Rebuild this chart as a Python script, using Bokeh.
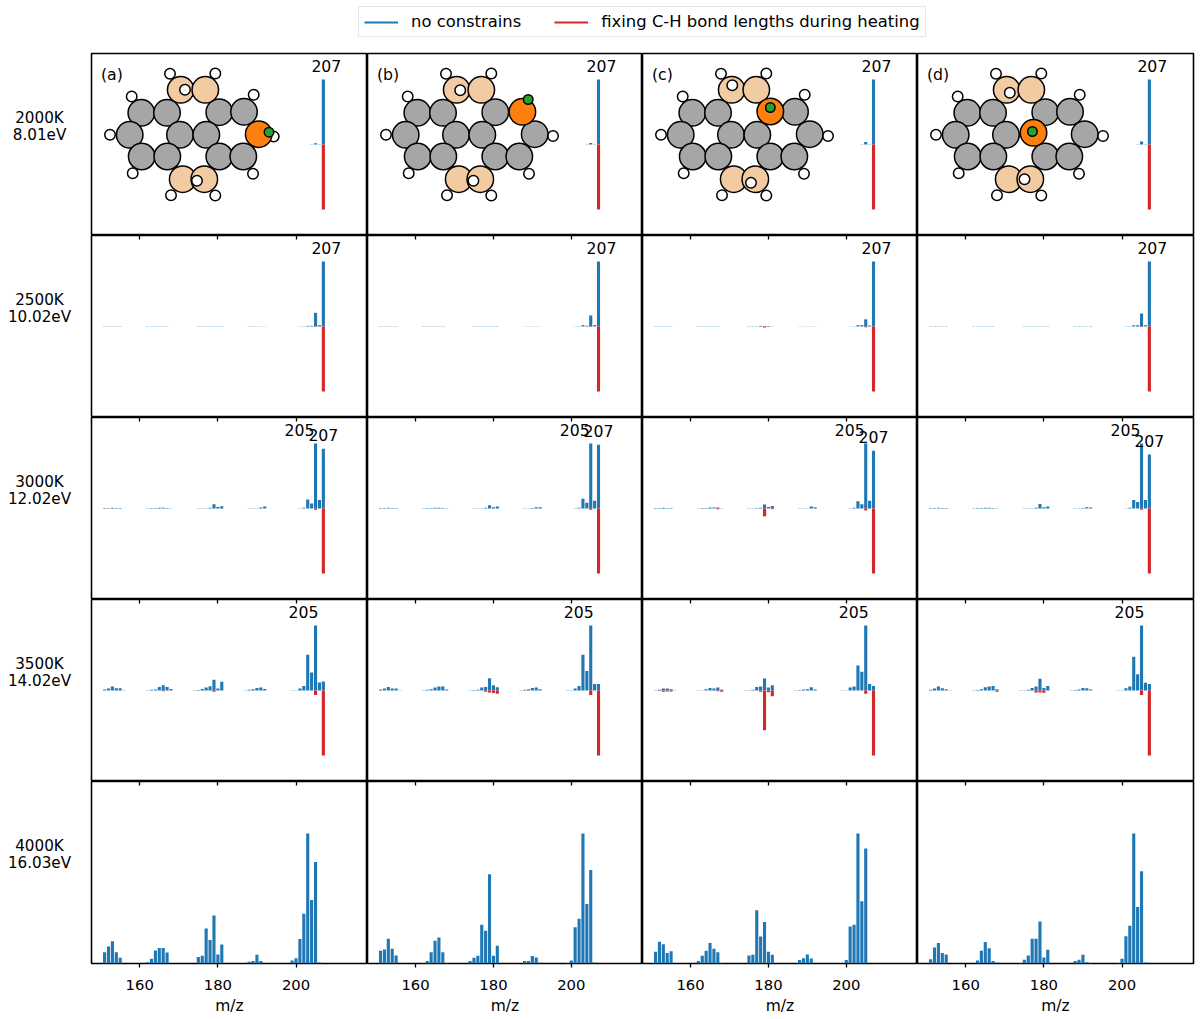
from bokeh.plotting import figure
from bokeh.layouts import column, row
from bokeh.models import Range1d, LinearAxis, FixedTicker, Legend, LegendItem
from bokeh.core.properties import value
from bokeh.embed import file_html
from bokeh.resources import INLINE

BLUE = "#1f77b4"
RED = "#d62728"
FONT = "DejaVu Sans"

# m/z positions shared by all the spectra
MZ = [151, 152, 153, 154, 155, 156,
      162, 163, 164, 165, 166, 167, 168,
      174, 175, 176, 177, 178, 179, 180, 181,
      187, 188, 189, 190, 191, 192,
      199, 200, 201, 202, 203, 204, 205, 206, 207]

TICKS = [160, 180, 200]
COLUMNS = ["a", "b", "c", "d"]
TEMPS = ["2000K", "2500K", "3000K", "3500K", "4000K"]
ENERGIES = ["8.01eV", "10.02eV", "12.02eV", "14.02eV", "16.03eV"]

# no constraints, blue (upward)
B2000A = [0]*27 + [0, 0, 0, 0, 0, .002, .02, .002, 1]
B2000B = [0]*27 + [0, 0, 0, 0, 0, .002, .025, .002, 1]
B2000C = [0]*27 + [0, 0, 0, 0, 0, .003, .04, .002, 1]
B2000D = [0]*27 + [0, 0, 0, 0, 0, .003, .045, .002, 1]

B2500A = [.002, .003, .003, .003, .002, 0, .002, .002, .003, .003, .003, .002, 0, 0, .002, .002, .003, .003, .004, .003, .003, 0, .002, .002, .003, .003, .002, 0, 0, .002, .004, .01, .01, .21, .02, 1]
B2500B = [.002, .003, .003, .003, .002, 0, .002, .002, .003, .003, .003, .002, 0, 0, .002, .002, .003, .003, .005, .003, .003, 0, .002, .002, .003, .003, .002, 0, 0, .002, .004, .02, .012, .17, .02, 1]
B2500C = [.002, .003, .003, .003, .002, 0, .002, .002, .003, .003, .003, .002, 0, 0, .002, .002, .003, .003, .005, .003, .003, 0, .002, .002, .003, .003, .002, 0, 0, .002, .004, .02, .02, .11, .015, 1]
B2500D = [.002, .003, .003, .003, .002, 0, .002, .002, .003, .003, .003, .002, 0, 0, .002, .002, .003, .003, .005, .003, .003, 0, .002, .002, .003, .003, .002, 0, 0, .002, .004, .02, .02, .2, .02, 1]

B3000A = [.006, .008, .01, .008, .006, 0, .004, .006, .008, .01, .01, .008, .004, 0, .002, .003, .005, .01, .067, .025, .035, 0, .004, .005, .005, .015, .03, 0, 0, .005, .01, .14, .077, 1, .13, .92]
B3000B = [.006, .008, .01, .008, .006, 0, .004, .006, .008, .01, .01, .008, .004, 0, .002, .003, .005, .01, .05, .02, .03, 0, .004, .005, .006, .02, .02, 0, 0, .005, .01, .15, .09, 1, .12, .98]
B3000C = [.006, .008, .01, .008, .006, 0, .004, .006, .008, .015, .015, .015, .004, 0, .002, .003, .006, .01, .06, .025, .04, 0, .004, .005, .005, .03, .02, 0, 0, .005, .01, .113, .067, 1, .12, .89]
B3000D = [.006, .008, .01, .008, .006, 0, .004, .006, .008, .01, .01, .008, .004, 0, .002, .003, .005, .01, .07, .02, .03, 0, .004, .005, .006, .02, .015, 0, 0, .005, .01, .13, .1, 1, .13, .83]

B3500A = [.015, .03, .06, .035, .035, .005, .005, .01, .015, .055, .08, .055, .025, .002, .008, .025, .045, .065, .165, .03, .135, .005, .01, .02, .04, .045, .025, .002, .005, .03, .07, .55, .277, 1, .123, .138]
B3500B = [.015, .03, .055, .03, .03, .005, .005, .01, .02, .045, .06, .06, .015, .002, .006, .01, .045, .055, .19, .08, .05, .005, .01, .02, .04, .045, .02, .002, .005, .03, .07, .55, .3, 1, .1, .1]
B3500C = [.005, .01, .03, .03, .02, .005, .002, .005, .02, .04, .03, .045, .015, .002, .005, .01, .055, .06, .185, .045, .08, .004, .008, .015, .02, .05, .015, .002, .005, .045, .06, .385, .29, 1, .1, .07]
B3500D = [.01, .03, .06, .035, .02, .004, .003, .006, .02, .05, .06, .07, .02, .002, .005, .01, .04, .06, .18, .04, .07, .004, .008, .015, .04, .035, .015, .002, .005, .035, .06, .52, .25, 1, .12, .1]

B4000A = [.087, .13, .172, .087, .044, 0, .01, .036, .10, .12, .12, .085, 0, 0, .05, .06, .27, .18, .37, .07, .147, 0, .013, .02, .067, .02, 0, .023, .04, .188, .383, 1, .488, .78, .008, 0]
B4000B = [.098, .108, .19, .113, .062, 0, .002, .02, .087, .175, .2, .087, .003, .02, .044, .06, .298, .252, .686, .06, .136, 0, .02, .02, .057, .046, .005, .003, .023, .278, .344, 1, .458, .72, .008, 0]
B4000C = [.09, .167, .149, .08, .095, 0, .02, .06, .098, .157, .113, .087, .003, 0, .062, .067, .41, .208, .32, .09, .067, .002, .026, .041, .07, .039, 0, 0, .026, .285, .298, 1, .478, .884, 0, 0]
B4000D = [.033, .123, .157, .08, .07, 0, 0, .023, .098, .165, .118, .02, .008, .003, .028, .062, .19, .19, .324, .046, .105, 0, .02, .028, .067, .01, .004, .003, .036, .21, .29, 1, .434, .71, .008, 0]

# fixed C-H bond lengths, red (drawn downward): m/z and magnitude
R2000A_MZ, R2000A = [207], [1]
R2000B_MZ, R2000B = [207], [1]
R2000C_MZ, R2000C = [207], [1]
R2000D_MZ, R2000D = [207], [1]

R2500A_MZ, R2500A = [205, 207], [.005, 1]
R2500B_MZ, R2500B = [205, 207], [.005, 1]
R2500C_MZ, R2500C = [178, 179, 180, 205, 207], [.008, .015, .008, .012, 1]
R2500D_MZ, R2500D = [205, 207], [.006, 1]

R3000A_MZ, R3000A = [205, 207], [.02, 1]
R3000B_MZ, R3000B = [205, 207], [.02, 1]
R3000C_MZ, R3000C = [167, 179, 181, 205, 207], [.01, .12, .01, .03, 1]
R3000D_MZ, R3000D = [205, 207], [.02, 1]

R3500A_MZ, R3500A = [166, 179, 205, 207], [.01, .02, .07, 1]
R3500B_MZ, R3500B = [178, 179, 180, 181, 205, 207], [.02, .03, .04, .05, .07, 1]
R3500C_MZ, R3500C = [152, 153, 154, 155, 167, 168, 178, 179, 180, 181, 205, 207], [.005, .02, .015, .015, .01, .02, .02, .61, .025, .09, .05, 1]
R3500D_MZ, R3500D = [168, 178, 179, 180, 205, 207], [.02, .03, .03, .035, .07, 1]

BLUE_ROWS = [[B2000A, B2000B, B2000C, B2000D],
             [B2500A, B2500B, B2500C, B2500D],
             [B3000A, B3000B, B3000C, B3000D],
             [B3500A, B3500B, B3500C, B3500D],
             [B4000A, B4000B, B4000C, B4000D]]
RED_ROWS = [[(R2000A_MZ, R2000A), (R2000B_MZ, R2000B), (R2000C_MZ, R2000C), (R2000D_MZ, R2000D)],
            [(R2500A_MZ, R2500A), (R2500B_MZ, R2500B), (R2500C_MZ, R2500C), (R2500D_MZ, R2500D)],
            [(R3000A_MZ, R3000A), (R3000B_MZ, R3000B), (R3000C_MZ, R3000C), (R3000D_MZ, R3000D)],
            [(R3500A_MZ, R3500A), (R3500B_MZ, R3500B), (R3500C_MZ, R3500C), (R3500D_MZ, R3500D)]]

# peak annotations per row: m/z, horizontal shift of the text
PEAK_LABELS = [[(207, 3)], [(207, 3)], [(205, -16), (207, 0)], [(205, -12)], []]

# molecule inset, in pixels inside the panel
C_XY = [(49.8, 59.3), (75.5, 59.3), (127.8, 58.7), (152.5, 58.3), (38.2, 81.3), (88.5, 81.3),
        (114.8, 81.3), (167.2, 80.7), (50.2, 103), (75.8, 103), (127.8, 103), (151.8, 103)]
PEACH_XY = [(89.2, 36.3), (113.8, 36.3), (91.2, 125.7), (112.8, 125.7)]
H_XY = [(78.5, 20.3), (123.8, 20), (40.2, 43), (18.5, 81.3),
        (41.2, 119.7), (161.5, 120.3), (79.5, 141.7), (123.8, 142)]
H_TOPRIGHT_XY = {"a": [(162.2, 41.3)], "b": [], "c": [(162.2, 41.3)], "d": [(162.2, 41.3)]}
H_RIGHT_XY = {"a": (182.2, 83), "b": (185.5, 82.5), "c": (185.5, 82.5), "d": (185.5, 82.5)}
ORANGE_INDEX = {"a": 7, "b": 3, "c": 2, "d": 6}
ORANGE_XY = {"a": (167.2, 80.7), "b": (154.9, 58.3), "c": (127.8, 58), "d": (116, 79.3)}
GREEN_XY = {"a": (177.5, 78.7), "b": (160.7, 46), "c": (127.8, 54), "d": (114.9, 78)}
TOP_H_XY = {"a": [(93.5, 36.3), (105.5, 127.3)], "b": [(92.7, 36.7), (105.9, 127.3)],
            "c": [(89.8, 31.7), (108.5, 129.3)], "d": [(92.3, 39.3), (107, 125.7)]}

X0, X1 = 147.65, 218.3
LEFT = 90
FRAME_W = [276, 275, 275, 276]
FRAME_H = 182


def atoms(p, xy, size, color):
    p.scatter([a[0] for a in xy], [a[1] for a in xy], size=size, fill_color=color,
              line_color="black", line_width=1.5, x_range_name="mol", y_range_name="mol")


def molecule(p, key):
    atoms(p, H_XY + H_TOPRIGHT_XY[key] + [H_RIGHT_XY[key]], 10.5, "white")
    carbons = [c for i, c in enumerate(C_XY) if i != ORANGE_INDEX[key]]
    atoms(p, carbons, 26.5, "#a6a6a6")
    atoms(p, PEACH_XY, 26.5, "#f2cba2")
    atoms(p, [ORANGE_XY[key]], 26.5, "#ff7f0e")
    atoms(p, TOP_H_XY[key], 10.5, "white")
    atoms(p, [GREEN_XY[key]], 9.5, "#2ca02c")
    p.text([9.5], [20.5], text=[f"({key})"], text_font=value(FONT), text_font_size="15.7px",
           text_color="black", text_align="left", text_baseline="alphabetic",
           x_range_name="mol", y_range_name="mol")


def panel(r, c):
    last = r == 4
    p = figure(frame_width=FRAME_W[c], frame_height=FRAME_H,
               x_range=Range1d(X0, X1),
               y_range=Range1d(0, 1.4) if last else Range1d(-1.4, 1.4),
               x_axis_location=None, y_axis_location=None,
               output_backend="svg", toolbar_location=None,
               min_border_left=1 if c == 0 else 0,
               min_border_right=2 if c == 3 else 0,
               min_border_top=1 if r == 0 else 0, min_border_bottom=0,
               background_fill_color="white", border_fill_color="white",
               outline_line_color="black", outline_line_width=1.6)
    p.grid.visible = False
    if r > 0:
        # tick marks belonging to the panel above
        ax = LinearAxis(ticker=FixedTicker(ticks=TICKS), axis_line_color=None,
                        major_tick_in=4, major_tick_out=0, minor_tick_line_color=None,
                        major_tick_line_color="black", major_tick_line_width=1.3,
                        major_label_overrides={t: "" for t in TICKS},
                        major_label_standoff=0, major_label_text_font_size="1px")
        p.add_layout(ax, "above")
    if last:
        ax = LinearAxis(ticker=FixedTicker(ticks=TICKS), axis_line_color=None,
                        major_tick_in=0, major_tick_out=4, minor_tick_line_color=None,
                        major_tick_line_color="black", major_tick_line_width=1.3,
                        major_label_text_font=FONT, major_label_text_font_size="14.8px",
                        major_label_text_color="black", major_label_standoff=12,
                        axis_label="m/z", axis_label_text_font=FONT,
                        axis_label_text_font_style="normal", axis_label_text_font_size="15.5px",
                        axis_label_text_color="black", axis_label_standoff=4)
        p.add_layout(ax, "below")
    blues = BLUE_ROWS[r][c]
    p.vbar(x=MZ, top=blues, bottom=0, width=0.8, fill_color=BLUE, line_color=None)
    if not last:
        mz, mag = RED_ROWS[r][c]
        p.vbar(x=mz, top=[-m for m in mag], bottom=0, width=0.8, fill_color=RED, line_color=None)
    for mz_peak, shift in PEAK_LABELS[r]:
        h = blues[MZ.index(mz_peak)]
        p.text([mz_peak], [h], text=[str(mz_peak)], x_offset=shift, y_offset=-14,
               text_font=value(FONT), text_font_size="15.7px", text_color="black",
               text_align="center", text_baseline="alphabetic")
    if r == 0:
        p.extra_x_ranges["mol"] = Range1d(0, FRAME_W[c])
        p.extra_y_ranges["mol"] = Range1d(FRAME_H, 0)
        molecule(p, COLUMNS[c])
    return p


def row_label(r):
    h = FRAME_H + (1 if r == 0 else 0)
    p = figure(frame_width=LEFT, frame_height=h, x_range=Range1d(0, LEFT), y_range=Range1d(h, 0),
               x_axis_location=None, y_axis_location=None, output_backend="svg",
               toolbar_location=None, min_border=0, outline_line_color=None)
    p.grid.visible = False
    p.text([39, 39], [64.5, 81.5], text=[TEMPS[r], ENERGIES[r]],
           text_font=value(FONT), text_font_size="15.2px", text_color="black",
           text_align="center", text_baseline="middle")
    return p


# legend strip on top of the grid
top = figure(width=1195, height=52, x_range=Range1d(0, 1), y_range=Range1d(0, 1),
             x_axis_location=None, y_axis_location=None, output_backend="svg",
             toolbar_location=None, min_border=0, outline_line_color=None)
top.grid.visible = False
r1 = top.line([0, 0], [-1, -1], line_color=BLUE, line_width=2)
r2 = top.line([0, 0], [-1, -1], line_color=RED, line_width=2)
legend = Legend(items=[LegendItem(label="no constrains", renderers=[r1]),
                       LegendItem(label="fixing C-H bond lengths during heating", renderers=[r2])],
                orientation="horizontal", location=(358, 15), glyph_width=34, glyph_height=16,
                label_text_font=FONT, label_text_font_size="16.4px", label_text_color="black",
                label_standoff=13, spacing=33, padding=5, margin=0,
                border_line_color="#cccccc", border_line_width=1.2,
                background_fill_alpha=1, label_height=16)
top.add_layout(legend, "center")

rows = [top]
for r in range(5):
    rows.append(row([row_label(r)] + [panel(r, c) for c in range(4)], spacing=0))
layout = column(rows, spacing=0)

open("out.html", "w").write(file_html(layout, INLINE))
